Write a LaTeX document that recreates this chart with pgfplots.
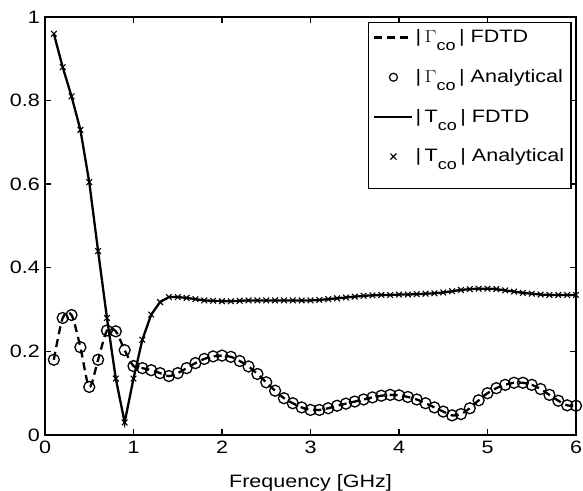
\documentclass[border=0pt]{standalone}
\usepackage{pgfplots}
\pgfplotsset{compat=1.18}
\usepackage{fontspec}
\setmainfont{Liberation Sans}
\newcommand{\fs}{\fontsize{18}{21}\selectfont}
\newcommand{\W}[1]{\scalebox{1.2}[1]{#1}}
\newcommand{\co}{\raisebox{-8bp}{\fontsize{15}{15}\selectfont co}}
\newcommand{\G}{|\,$\Gamma$\co\,|}
\newcommand{\T}{|\,T\co\,|}
\begin{document}
\fs
\begin{tikzpicture}
\useasboundingbox (-45bp,-56bp) rectangle (538bp,435bp);
\begin{axis}[
  at={(0,0)}, anchor=south west,
  scale only axis, width=531bp, height=418bp,
  xmin=0, xmax=6, ymin=0, ymax=1,
  xtick={0,1,2,3,4,5,6}, ytick={0,0.2,0.4,0.6,0.8,1},
  xticklabels={\W{0},\W{1},\W{2},\W{3},\W{4},\W{5},\W{6}},
  yticklabels={\W{0},\W{0.2},\W{0.4},\W{0.6},\W{0.8},\W{1}},
  tick align=inside, major tick length=6bp,
  axis line style={line width=1.7bp}, every tick/.style={black, line width=1.4bp},
  tick label style={font=\fs},
  yticklabel style={xshift=1bp},
  xlabel={\W{Frequency [GHz]}}, xlabel style={font=\fs, yshift=-8bp},
  legend style={at={(0.992,0.988)}, anchor=north east, draw=black, line width=1.4bp,
    font=\fs, row sep=20bp, inner sep=5bp,
    cells={anchor=west}},
  legend cell align=left,
  legend image code/.code={\draw[#1, line width=2.2bp] (0bp,0bp) -- (38bp,0bp);},
]
\addplot[black, line width=2.3bp, dashed, dash pattern=on 8bp off 5bp, smooth, tension=0.5] coordinates {
(0.1,0.18)(0.2,0.28)(0.3,0.287)(0.4,0.21)(0.5,0.115)(0.6,0.18)(0.7,0.25)(0.8,0.248)(0.9,0.203)(1.0,0.165)
(1.1,0.16)(1.2,0.155)(1.3,0.148)(1.4,0.141)(1.5,0.148)(1.6,0.16)(1.7,0.172)(1.8,0.182)(1.9,0.188)(2.0,0.19)
(2.1,0.187)(2.2,0.177)(2.3,0.164)(2.4,0.146)(2.5,0.126)(2.6,0.106)(2.7,0.088)(2.8,0.076)(2.9,0.066)(3.0,0.06)
(3.1,0.06)(3.2,0.064)(3.3,0.07)(3.4,0.075)(3.5,0.08)(3.6,0.085)(3.7,0.09)(3.8,0.094)(3.9,0.096)(4.0,0.095)
(4.1,0.091)(4.2,0.085)(4.3,0.076)(4.4,0.066)(4.5,0.056)(4.6,0.047)(4.7,0.05)(4.8,0.064)(4.9,0.083)(5.0,0.1)
(5.1,0.112)(5.2,0.12)(5.3,0.125)(5.4,0.125)(5.5,0.12)(5.6,0.11)(5.7,0.096)(5.8,0.082)(5.9,0.071)(6.0,0.07)
};
\addlegendentry{\W{\G\ FDTD}}
\addplot[black, only marks, mark=o, mark size=5.5bp, mark options={line width=1.3bp},
  legend image code/.code={\draw[black, line width=1.2bp] (19bp,0bp) circle (4bp);}] coordinates {
(0.1,0.18)(0.2,0.28)(0.3,0.287)(0.4,0.21)(0.5,0.115)(0.6,0.18)(0.7,0.25)(0.8,0.248)(0.9,0.203)(1.0,0.165)
(1.1,0.16)(1.2,0.155)(1.3,0.148)(1.4,0.141)(1.5,0.148)(1.6,0.16)(1.7,0.172)(1.8,0.182)(1.9,0.188)(2.0,0.19)
(2.1,0.187)(2.2,0.177)(2.3,0.164)(2.4,0.146)(2.5,0.126)(2.6,0.106)(2.7,0.088)(2.8,0.076)(2.9,0.066)(3.0,0.06)
(3.1,0.06)(3.2,0.064)(3.3,0.07)(3.4,0.075)(3.5,0.08)(3.6,0.085)(3.7,0.09)(3.8,0.094)(3.9,0.096)(4.0,0.095)
(4.1,0.091)(4.2,0.085)(4.3,0.076)(4.4,0.066)(4.5,0.056)(4.6,0.047)(4.7,0.05)(4.8,0.064)(4.9,0.083)(5.0,0.1)
(5.1,0.112)(5.2,0.12)(5.3,0.125)(5.4,0.125)(5.5,0.12)(5.6,0.11)(5.7,0.096)(5.8,0.082)(5.9,0.071)(6.0,0.07)
};
\addlegendentry{\W{\G\ Analytical}}
\addplot[black, line width=2.3bp] coordinates {
(0.1,0.96)(0.2,0.88)(0.3,0.81)(0.4,0.73)(0.5,0.605)(0.6,0.44)(0.7,0.28)(0.8,0.135)(0.9,0.03)(1.0,0.135)
(1.1,0.228)(1.2,0.288)(1.3,0.318)(1.4,0.33)(1.5,0.33)(1.6,0.328)(1.7,0.325)(1.8,0.322)(1.9,0.321)(2.0,0.32)
(2.1,0.32)(2.2,0.321)(2.3,0.322)(2.4,0.322)(2.5,0.322)(2.6,0.322)(2.7,0.322)(2.8,0.322)(2.9,0.322)(3.0,0.322)
(3.1,0.323)(3.2,0.325)(3.3,0.327)(3.4,0.329)(3.5,0.331)(3.6,0.333)(3.7,0.334)(3.8,0.335)(3.9,0.335)(4.0,0.336)
(4.1,0.336)(4.2,0.337)(4.3,0.338)(4.4,0.339)(4.5,0.341)(4.6,0.344)(4.7,0.347)(4.8,0.349)(4.9,0.35)(5.0,0.35)
(5.1,0.349)(5.2,0.346)(5.3,0.343)(5.4,0.34)(5.5,0.338)(5.6,0.336)(5.7,0.335)(5.8,0.335)(5.9,0.335)(6.0,0.335)
};
\addlegendentry{\W{\T\ FDTD}}
\addplot[black, only marks, mark=x, mark size=4bp, mark options={line width=1.1bp},
  legend image code/.code={\draw[black, line width=1.2bp] (16bp,-3bp) -- (22bp,3bp) (16bp,3bp) -- (22bp,-3bp); \path (19bp,-26bp);}] coordinates {
(0.1,0.96)(0.2,0.88)(0.3,0.81)(0.4,0.73)(0.5,0.605)(0.6,0.44)(0.7,0.28)(0.8,0.135)(0.9,0.03)(1.0,0.135)
(1.1,0.228)(1.2,0.288)(1.3,0.318)(1.4,0.33)(1.5,0.33)(1.6,0.328)(1.7,0.325)(1.8,0.322)(1.9,0.321)(2.0,0.32)
(2.1,0.32)(2.2,0.321)(2.3,0.322)(2.4,0.322)(2.5,0.322)(2.6,0.322)(2.7,0.322)(2.8,0.322)(2.9,0.322)(3.0,0.322)
(3.1,0.323)(3.2,0.325)(3.3,0.327)(3.4,0.329)(3.5,0.331)(3.6,0.333)(3.7,0.334)(3.8,0.335)(3.9,0.335)(4.0,0.336)
(4.1,0.336)(4.2,0.337)(4.3,0.338)(4.4,0.339)(4.5,0.341)(4.6,0.344)(4.7,0.347)(4.8,0.349)(4.9,0.35)(5.0,0.35)
(5.1,0.349)(5.2,0.346)(5.3,0.343)(5.4,0.34)(5.5,0.338)(5.6,0.336)(5.7,0.335)(5.8,0.335)(5.9,0.335)(6.0,0.335)
};
\addlegendentry{\W{\T\ Analytical}}
\end{axis}
\end{tikzpicture}
\end{document}
